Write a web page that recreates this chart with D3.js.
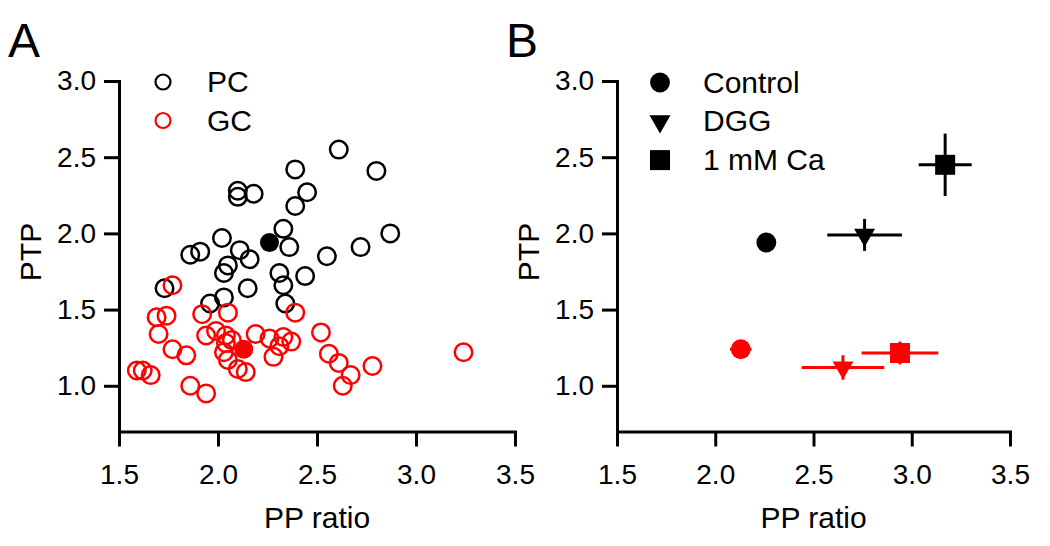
<!DOCTYPE html>
<html>
<head>
<meta charset="utf-8">
<script src="https://cdn.jsdelivr.net/npm/d3@7"></script>
<style>
	body { margin: 0; background: #fff; }
	svg { display: block; font-family: "Liberation Sans", Arial, sans-serif; }
</style>
</head>
<body>
<svg></svg>
<script>
// panel A: single cells, PP ratio vs PTP
const pcX = [2.61, 2.80, 2.39, 2.45, 2.39, 2.10, 2.10, 2.18, 2.33, 2.02, 2.87, 2.72, 2.36, 1.86, 1.91, 2.11, 2.16, 2.55, 2.05, 2.03, 2.31, 2.44, 2.33, 2.15, 1.73, 2.03, 1.96, 2.34];
const pcY = [2.55, 2.41, 2.42, 2.27, 2.18, 2.28, 2.24, 2.26, 2.03, 1.97, 2.00, 1.91, 1.91, 1.86, 1.88, 1.89, 1.83, 1.85, 1.79, 1.74, 1.74, 1.72, 1.66, 1.64, 1.64, 1.58, 1.54, 1.54];
const gcX = [1.77, 1.69, 1.74, 1.92, 2.05, 2.39, 1.70, 1.77, 1.84, 1.94, 1.99, 2.04, 2.04, 2.03, 2.05, 2.10, 2.14, 2.19, 2.26, 2.31, 2.28, 2.33, 2.37, 2.52, 2.56, 2.61, 2.67, 2.63, 2.78, 3.24, 1.59, 1.62, 1.66, 1.86, 1.94, 2.07];
const gcY = [1.66, 1.45, 1.46, 1.47, 1.48, 1.48, 1.34, 1.24, 1.20, 1.33, 1.36, 1.33, 1.28, 1.22, 1.17, 1.11, 1.09, 1.34, 1.31, 1.26, 1.19, 1.32, 1.29, 1.35, 1.21, 1.15, 1.07, 1.00, 1.13, 1.22, 1.10, 1.10, 1.07, 1.00, 0.95, 1.30];
const pcMean = [2.26, 1.94];
const gcMean = [2.13, 1.24];

// panel B: group means +- sem
const conditions = ['Control', 'DGG', '1 mM Ca'];
const pcBX = [2.26, 2.76, 3.17];
const pcBY = [1.94, 1.99, 2.45];
const pcBXerr = [0.03, 0.19, 0.135];
const pcBYerr = [0.03, 0.105, 0.205];
const gcBX = [2.13, 2.65, 2.94];
const gcBY = [1.24, 1.12, 1.215];
const gcBXerr = [0.055, 0.21, 0.195];
const gcBYerr = [0.01, 0.08, 0.075];

const xTicks = [1.5, 2.0, 2.5, 3.0, 3.5];
const yTicks = [1.0, 1.5, 2.0, 2.5, 3.0];

const width = 1050;
const height = 546;

const svg = d3.select('svg')
	.attr('width', width)
	.attr('height', height);

const y = d3.scaleLinear().domain([0.7, 3.0]).range([431.5, 81]);
const xA = d3.scaleLinear().domain([1.5, 3.5]).range([119, 515]);
const xB = d3.scaleLinear().domain([1.5, 3.5]).range([617, 1010]);

function drawAxes(x, label) {
	const gx = svg.append('g')
		.attr('transform', 'translate(0,' + y.range()[0] + ')')
		.call(d3.axisBottom(x).tickValues(xTicks).tickFormat(d3.format('.1f'))
			.tickSize(15).tickSizeOuter(0).tickPadding(18));
	const gy = svg.append('g')
		.attr('transform', 'translate(' + x.range()[0] + ',0)')
		.call(d3.axisLeft(y).tickValues(yTicks).tickFormat(d3.format('.1f'))
			.tickSize(15).tickSizeOuter(0).tickPadding(8));
	[gx, gy].forEach(g => {
		g.selectAll('path, line').attr('stroke', '#000').attr('stroke-width', 3);
		g.select('.domain').attr('stroke-linecap', 'square');
		g.selectAll('text').attr('font-size', 28).attr('fill', '#000')
			.attr('font-family', '"Liberation Sans", Arial, sans-serif');
	});

	svg.append('text')
		.attr('x', (x.range()[0] + x.range()[1]) / 2)
		.attr('y', 528)
		.attr('text-anchor', 'middle')
		.attr('font-size', 30)
		.text('PP ratio');
	svg.append('text')
		.attr('transform', 'translate(' + (x.range()[0] - 78) + ',252) rotate(-90)')
		.attr('text-anchor', 'middle')
		.attr('font-size', 30)
		.text('PTP');
	svg.append('text')
		.attr('x', x.range()[0] - 111)
		.attr('y', 57)
		.attr('font-size', 48)
		.text(label);
}

drawAxes(xA, 'A');
drawAxes(xB, 'B');

// ---- panel A
const gcPts = gcX.map((d, i) => [d, gcY[i]]);
const pcPts = pcX.map((d, i) => [d, pcY[i]]);

svg.append('g')
	.selectAll('circle')
	.data(pcPts)
	.enter().append('circle')
		.attr('cx', d => xA(d[0]))
		.attr('cy', d => y(d[1]))
		.attr('r', 8.75)
		.attr('fill', 'none')
		.attr('stroke', '#000')
		.attr('stroke-width', 2.5);

svg.append('g')
	.selectAll('circle')
	.data(gcPts)
	.enter().append('circle')
		.attr('cx', d => xA(d[0]))
		.attr('cy', d => y(d[1]))
		.attr('r', 8.75)
		.attr('fill', 'none')
		.attr('stroke', 'red')
		.attr('stroke-width', 2.5);

svg.append('g')
	.selectAll('circle')
	.data([[pcMean, '#000'], [gcMean, 'red']])
	.enter().append('circle')
		.attr('cx', d => xA(d[0][0]))
		.attr('cy', d => y(d[0][1]))
		.attr('r', 9.5)
		.attr('fill', d => d[1]);

// legend A
const legA = [['PC', '#000'], ['GC', 'red']];
legA.forEach((d, i) => {
	svg.append('circle')
		.attr('cx', 163).attr('cy', 82 + i * 38.5)
		.attr('r', 7.5)
		.attr('fill', 'none')
		.attr('stroke', d[1])
		.attr('stroke-width', 2.2);
	svg.append('text')
		.attr('x', 207).attr('y', 92 + i * 38.5)
		.attr('font-size', 30)
		.text(d[0]);
});

// ---- panel B
const shapes = [d3.symbolCircle, d3.symbolTriangle, d3.symbolSquare];
const sizes = [310, 190, 400];
const rot = [0, 180, 0];

function groupB(xs, ys, xe, ye, colour) {
	const g = svg.append('g');
	xs.forEach((d, i) => {
		g.append('line')
			.attr('x1', xB(d - xe[i])).attr('x2', xB(d + xe[i]))
			.attr('y1', y(ys[i])).attr('y2', y(ys[i]))
			.attr('stroke', colour).attr('stroke-width', 3);
		g.append('line')
			.attr('x1', xB(d)).attr('x2', xB(d))
			.attr('y1', y(ys[i] - ye[i])).attr('y2', y(ys[i] + ye[i]))
			.attr('stroke', colour).attr('stroke-width', 3);
		g.append('path')
			.attr('d', d3.symbol().type(shapes[i]).size(sizes[i]))
			.attr('transform', 'translate(' + xB(d) + ',' + y(ys[i]) + ') rotate(' + rot[i] + ')')
			.attr('fill', colour);
	});
}
groupB(pcBX, pcBY, pcBXerr, pcBYerr, '#000');
groupB(gcBX, gcBY, gcBXerr, gcBYerr, 'red');

// legend B
conditions.forEach((c, i) => {
	const yy = 82.5 + i * 38.8;
	svg.append('path')
		.attr('d', d3.symbol().type(shapes[i]).size(sizes[i]))
		.attr('transform', 'translate(660,' + yy + ') rotate(' + rot[i] + ')')
		.attr('fill', '#000');
	svg.append('text')
		.attr('x', 703).attr('y', yy + 10)
		.attr('font-size', 30)
		.text(c);
});
</script>
</body>
</html>
